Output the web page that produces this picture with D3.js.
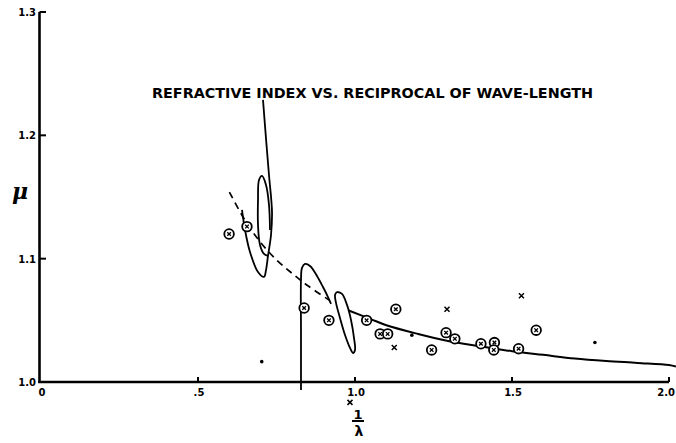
<!DOCTYPE html>
<html>
<head>
<meta charset="utf-8">
<script src="https://cdn.jsdelivr.net/npm/d3@7"></script>
<style>
	body { margin: 0; background: #fff; }
	svg { display: block; }
	text { font-family: "DejaVu Sans", sans-serif; font-weight: bold; fill: #000; }
</style>
</head>
<body>
<div id="chart"></div>
<script>
// observed points, circled crosses
var circleX = [0.599, 0.656, 0.838, 0.917, 1.037, 1.080, 1.104, 1.130, 1.244, 1.290, 1.318, 1.401, 1.444, 1.442, 1.521, 1.577];
var circleY = [1.120, 1.126, 1.060, 1.050, 1.050, 1.039, 1.039, 1.059, 1.026, 1.040, 1.035, 1.031, 1.032, 1.026, 1.027, 1.042];

// observed points, crosses
var crossX = [1.125, 1.293, 1.530, 0.984];
var crossY = [1.028, 1.059, 1.070, 0.9835];

// single dots
var dotX = [0.703, 1.764, 1.181];
var dotY = [1.0165, 1.032, 1.038];

// fitted curve: dashed part and solid part
var dashX = [0.60, 0.65, 0.70, 0.75, 0.80, 0.85, 0.92];
var dashY = [1.154, 1.131, 1.113, 1.099, 1.088, 1.078, 1.066];
var solidX = [0.98, 1.05, 1.10, 1.20, 1.30, 1.40, 1.50, 1.60, 1.70, 1.80, 1.90, 2.00, 2.022];
var solidY = [1.058, 1.051, 1.046, 1.039, 1.033, 1.029, 1.025, 1.022, 1.019, 1.017, 1.0155, 1.0138, 1.0125];

// hand drawn loops (data units)
var leaderX = [0.7070, 0.7170, 0.7260, 0.7357, 0.7325, 0.7229, 0.7166, 0.7102, 0.6911, 0.6656, 0.6497, 0.6401];
var leaderY = [1.2287, 1.1960, 1.1680, 1.1379, 1.1192, 1.1022, 1.0908, 1.0852, 1.0892, 1.1054, 1.1233, 1.1395];
var loopX = [0.7293, 0.7261, 0.7166, 0.7038, 0.6943, 0.6911, 0.6911, 0.6975, 0.7102, 0.7229];
var loopY = [1.1233, 1.1436, 1.1598, 1.1671, 1.1638, 1.1476, 1.1273, 1.1111, 1.1038, 1.1022];
var hookX = [0.8280, 0.8280, 0.8280, 0.8312, 0.8408, 0.8567, 0.8790, 0.8981, 0.9140, 0.9236];
var hookY = [0.9935, 1.0422, 1.0827, 1.0925, 1.0957, 1.0941, 1.0860, 1.0770, 1.0689, 1.0633];
var ovalX = [0.9427, 0.9586, 0.9745, 0.9873, 0.9968, 1.0000, 0.9936, 0.9841, 0.9682, 0.9522, 0.9395, 0.9363, 0.9427];
var ovalY = [1.0730, 1.0714, 1.0625, 1.0503, 1.0357, 1.0260, 1.0235, 1.0276, 1.0381, 1.0519, 1.0641, 1.0706, 1.0730];

var xTicks = [0, 0.5, 1.0, 1.5, 2.0];
var xTickLabels = ["0", ".5", "1.0", "1.5", "2.0"];
var yTicks = [1.0, 1.1, 1.2, 1.3];
var yTickLabels = ["1.0", "1.1", "1.2", "1.3"];

var title = "REFRACTIVE INDEX VS. RECIPROCAL OF WAVE-LENGTH";

var options = {
	container: { width: 676, height: 443 },
	margin: { top: 12, right: 7, bottom: 61, left: 41 }
};

var zip = function(xs, ys) {
	return xs.map(function(v, i) { return [v, ys[i]]; });
};

var width = options.container.width - options.margin.left - options.margin.right,
	height = options.container.height - options.margin.top - options.margin.bottom;

var svg = d3.select("#chart").append("svg")
	.attr("width", options.container.width)
	.attr("height", options.container.height);

var g = svg.append("g")
	.attr("transform", "translate(" + options.margin.left + "," + options.margin.top + ")");

var x = d3.scaleLinear().domain([0, 2]).range([0, width]);
var y = d3.scaleLinear().domain([1.0, 1.3]).range([height, 0]);

var line = d3.line()
	.curve(d3.curveCatmullRom)
	.x(function(d) { return x(d[0]); })
	.y(function(d) { return y(d[1]); });

// axes
g.append("line")
	.attr("x1", -1.5).attr("y1", 0)
	.attr("x2", -1.5).attr("y2", height + 1)
	.attr("stroke", "#000").attr("stroke-width", 2.6);

g.append("line")
	.attr("x1", -2.8).attr("y1", height)
	.attr("x2", width).attr("y2", height)
	.attr("stroke", "#000").attr("stroke-width", 2.6);

g.selectAll(".ytick")
	.data(yTicks)
	.enter().append("line")
	.attr("class", "ytick")
	.attr("x1", -1.5).attr("x2", 5)
	.attr("y1", function(d) { return y(d); })
	.attr("y2", function(d) { return y(d); })
	.attr("stroke", "#000").attr("stroke-width", 2);

g.selectAll(".ylabel")
	.data(yTicks)
	.enter().append("text")
	.attr("class", "ylabel")
	.attr("x", -5)
	.attr("y", function(d) { return y(d) + 4; })
	.attr("text-anchor", "end")
	.style("font-size", "10px")
	.text(function(d, i) { return yTickLabels[i]; });

g.selectAll(".xtick")
	.data(xTicks.slice(1))
	.enter().append("line")
	.attr("class", "xtick")
	.attr("x1", function(d) { return x(d); })
	.attr("x2", function(d) { return x(d); })
	.attr("y1", height).attr("y2", height - 5)
	.attr("stroke", "#000").attr("stroke-width", 2);

g.selectAll(".xlabel")
	.data(xTicks)
	.enter().append("text")
	.attr("class", "xlabel")
	.attr("x", function(d, i) { return i === xTicks.length - 1 ? x(d) + 6 : x(d) + 1; })
	.attr("y", height + 14)
	.attr("text-anchor", function(d, i) { return i === xTicks.length - 1 ? "end" : "middle"; })
	.style("font-size", "10px")
	.text(function(d, i) { return xTickLabels[i]; });

// axis titles
svg.append("text")
	.attr("x", 20).attr("y", 199)
	.attr("text-anchor", "middle")
	.style("font-family", "'DejaVu Serif', serif")
	.style("font-style", "italic")
	.style("font-size", "22px")
	.text("\u03BC");

svg.append("text")
	.attr("x", 358).attr("y", 419)
	.attr("text-anchor", "middle")
	.style("font-size", "13px")
	.text("1");

svg.append("line")
	.attr("x1", 352).attr("x2", 364)
	.attr("y1", 421).attr("y2", 421)
	.attr("stroke", "#000").attr("stroke-width", 2);

svg.append("text")
	.attr("x", 359).attr("y", 436)
	.attr("text-anchor", "middle")
	.style("font-size", "14px")
	.text("\u03BB");

// title
svg.append("text")
	.attr("x", 152).attr("y", 98)
	.attr("textLength", 441)
	.attr("lengthAdjust", "spacingAndGlyphs")
	.style("font-size", "14px")
	.text(title);

// curves
g.append("path")
	.datum(zip(dashX, dashY))
	.attr("d", line)
	.attr("fill", "none").attr("stroke", "#000")
	.attr("stroke-width", 1.7)
	.attr("stroke-dasharray", "7,5");

g.append("path")
	.datum(zip(solidX, solidY))
	.attr("d", line)
	.attr("fill", "none").attr("stroke", "#000")
	.attr("stroke-width", 2);

// loops
[zip(leaderX, leaderY), zip(loopX, loopY), zip(hookX, hookY), zip(ovalX, ovalY)].forEach(function(pts) {
	g.append("path")
		.datum(pts)
		.attr("d", line)
		.attr("fill", "none").attr("stroke", "#000")
		.attr("stroke-width", 1.8);
});

// circled crosses
var cc = g.selectAll(".cc")
	.data(zip(circleX, circleY))
	.enter().append("g")
	.attr("class", "cc")
	.attr("transform", function(d) { return "translate(" + x(d[0]) + "," + y(d[1]) + ")"; });

cc.append("circle")
	.attr("r", 4.8)
	.attr("fill", "#fff").attr("stroke", "#000").attr("stroke-width", 1.8);

cc.append("path")
	.attr("d", "M-1.8,-1.8L1.8,1.8M-1.8,1.8L1.8,-1.8")
	.attr("stroke", "#000").attr("stroke-width", 1.3);

// crosses
g.selectAll(".cross")
	.data(zip(crossX, crossY))
	.enter().append("path")
	.attr("class", "cross")
	.attr("transform", function(d) { return "translate(" + x(d[0]) + "," + y(d[1]) + ")"; })
	.attr("d", "M-2.5,-2.5L2.5,2.5M-2.5,2.5L2.5,-2.5")
	.attr("stroke", "#000").attr("stroke-width", 1.5);

// dots
g.selectAll(".dot")
	.data(zip(dotX, dotY))
	.enter().append("circle")
	.attr("class", "dot")
	.attr("cx", function(d) { return x(d[0]); })
	.attr("cy", function(d) { return y(d[1]); })
	.attr("r", 1.8)
	.attr("fill", "#000");
</script>
</body>
</html>
